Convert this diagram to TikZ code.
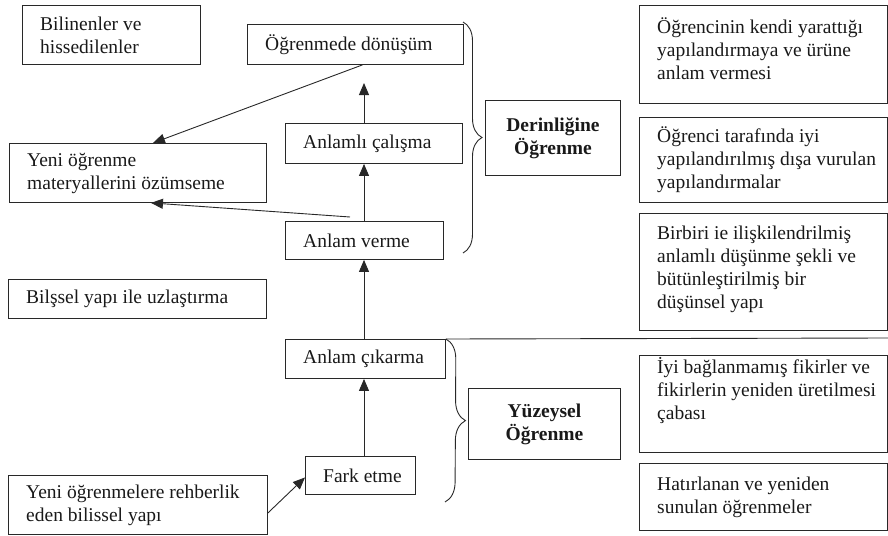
\documentclass[tikz,border=0pt]{standalone}
\usepackage{fontspec}
\setmainfont{Liberation Serif}
\usetikzlibrary{arrows.meta,decorations.pathreplacing,calc}
\definecolor{ln}{RGB}{40,40,40}
\definecolor{tx}{RGB}{25,25,25}
\begin{document}
\begin{tikzpicture}[x=1pt,y=-1pt,
  box/.style={draw=ln, line width=0.9pt, inner sep=0pt, anchor=north west},
  txt/.style={font=\fontsize{19.5}{23}\selectfont, align=left, inner sep=0pt, anchor=west, text=tx},
  btxt/.style={font=\fontsize{19.5}{23}\selectfont\bfseries, align=center, inner sep=0pt, anchor=center, text=tx},
  arr/.style={draw=ln, line width=0.9pt, -{Triangle[length=12pt,width=10pt]}},
  plain/.style={draw=ln, line width=0.9pt},
  brc/.style={draw=ln, line width=0.9pt, decorate, decoration={brace, amplitude=#1}}
]
\useasboundingbox (0,0) rectangle (888,535);

% boxes
\node[box, minimum width=178pt, minimum height=59pt] (bil) at (22,5) {};
\node[box, minimum width=216pt, minimum height=40pt] (ogd) at (247,24) {};
\node[box, minimum width=257pt, minimum height=59pt] (yeni) at (9,143) {};
\node[box, minimum width=177pt, minimum height=40pt] (anc) at (285,123) {};
\node[box, minimum width=158pt, minimum height=38pt] (anv) at (285,221) {};
\node[box, minimum width=135pt, minimum height=75pt] (der) at (485,100) {};
\node[box, minimum width=248pt, minimum height=98pt] (r1) at (639,5) {};
\node[box, minimum width=248pt, minimum height=85pt] (r2) at (639,117) {};
\node[box, minimum width=248pt, minimum height=117pt] (r3) at (639,213) {};
\node[box, minimum width=258pt, minimum height=39pt] (bily) at (8,279) {};
\node[box, minimum width=160pt, minimum height=39pt] (ank) at (285,339) {};
\node[box, minimum width=152pt, minimum height=71pt] (yuz) at (468,388) {};
\node[box, minimum width=248pt, minimum height=97pt] (r4) at (639,355) {};
\node[box, minimum width=248pt, minimum height=67pt] (r5) at (639,463) {};
\node[box, minimum width=110pt, minimum height=38pt] (fark) at (305,456) {};
\node[box, minimum width=259pt, minimum height=59pt] (rehb) at (8,475) {};

% texts
\node[txt] (tbil) at ($(bil.west)+(18,0)$) {Bilinenler ve\\hissedilenler};
\node[txt] (togd) at ($(ogd.west)+(18,0)$) {Öğrenmede dönüşüm};
\node[txt] (tyeni) at ($(yeni.west)+(18,0)$) {Yeni öğrenme\\materyallerini özümseme};
\node[txt] (tanc) at ($(anc.west)+(18,0)$) {Anlamlı çalışma};
\node[txt] (tanv) at ($(anv.west)+(18,0)$) {Anlam verme};
\node[btxt] (tder) at (der.center) {Derinliğine\\Öğrenme};
\node[txt] (tr1) at ($(r1.west)+(18,-6)$) {Öğrencinin kendi yarattığı\\yapılandırmaya ve ürüne\\anlam vermesi};
\node[txt] (tr2) at ($(r2.west)+(18,0)$) {Öğrenci tarafında iyi\\yapılandırılmış dışa vurulan\\yapılandırmalar};
\node[txt] (tr3) at ($(r3.west)+(18,-3)$) {Birbiri ie ilişkilendrilmiş\\anlamlı düşünme şekli ve\\bütünleştirilmiş bir\\düşünsel yapı};
\node[txt] (tbily) at ($(bily.west)+(18,0)$) {Bilşsel yapı ile uzlaştırma};
\node[txt] (tank) at ($(ank.west)+(18,0)$) {Anlam çıkarma};
\node[btxt] (tyuz) at (yuz.center) {Yüzeysel\\Öğrenme};
\node[txt] (tr4) at ($(r4.west)+(18,-13)$) {İyi bağlanmamış fikirler ve\\fikirlerin yeniden üretilmesi\\çabası};
\node[txt] (tr5) at ($(r5.west)+(18,0)$) {Hatırlanan ve yeniden\\sunulan öğrenmeler};
\node[txt] (tfark) at ($(fark.west)+(18,0)$) {Fark etme};
\node[txt] (trehb) at ($(rehb.west)+(18,0)$) {Yeni öğrenmelere rehberlik\\eden bilissel yapı};

% connectors
\coordinate (tipA) at (364,83);
\coordinate (fromV) at (350,217);
\draw[arr] (anc.north -| tipA) -- (tipA);
\draw[arr] (anv.north -| tipA) -- (anc.south -| tipA);
\draw[arr] (ank.north -| tipA) -- (anv.south -| tipA);
\draw[arr] (fark.north -| tipA) -- (ank.south -| tipA);
\draw[arr] ($(ogd.south)+(7,0)$) -- ($(yeni.north)+(15,0)$);
\draw[arr] (fromV) -- ($(yeni.south)+(13,0)$);
\draw[arr] ($(rehb.east)+(0,8)$) -- ($(fark.west)+(0,2)$);
\coordinate (lineEnd) at (888,338);
\draw[plain] (ank.north east) -- (lineEnd);

% braces
\coordinate (b1s) at (463,22);
\coordinate (b1e) at (463,253);
\draw[brc=19pt] (b1s) -- (b1e);
\coordinate (b2e) at (445,502);
\draw[brc=20pt] (ank.north east) -- (b2e);
\end{tikzpicture}
\end{document}
